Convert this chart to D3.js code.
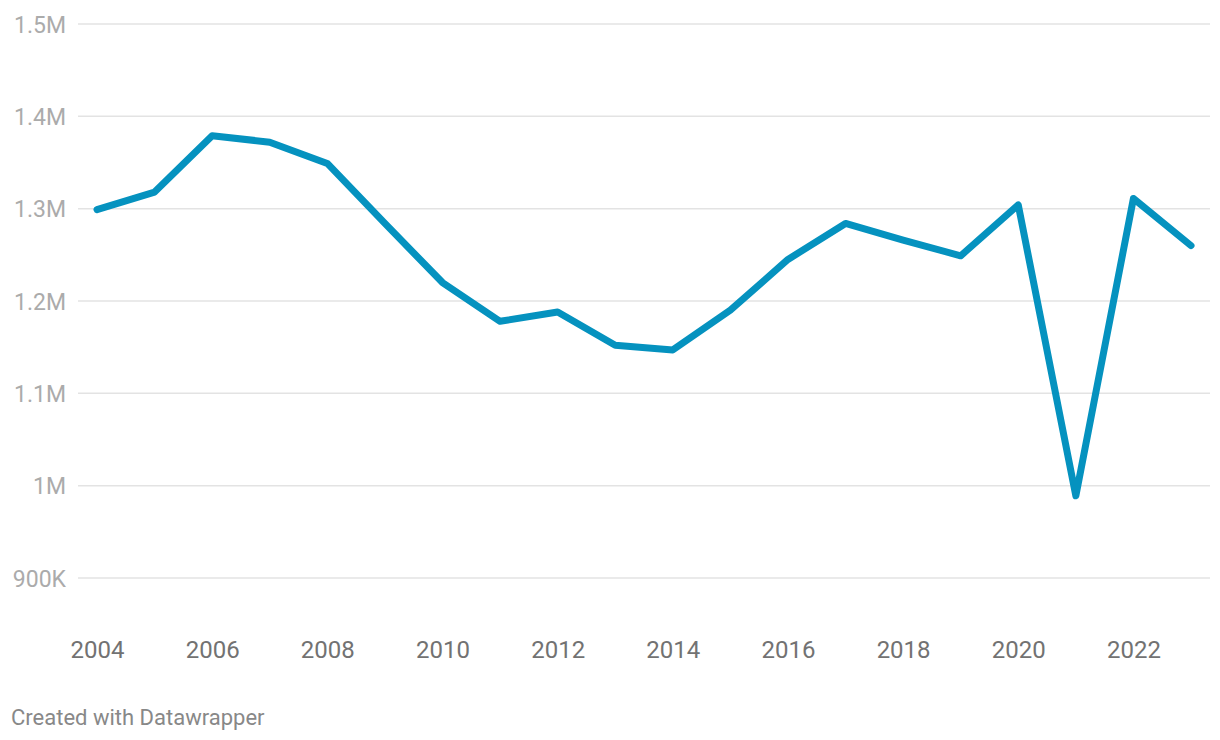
<!DOCTYPE html>
<html><head><meta charset="utf-8">
<script src="https://cdn.jsdelivr.net/npm/d3@7"></script>
<style>
body{margin:0;background:#fff;font-family:Roboto,sans-serif;}
</style></head><body>
<svg id="c" width="1220" height="740"></svg>
<script>
const years = [2004,2005,2006,2007,2008,2009,2010,2011,2012,2013,2014,2015,2016,2017,2018,2019,2020,2021,2022,2023];
const values = [1299000,1318000,1379000,1372000,1349000,1284000,1220000,1178000,1188000,1152000,1147000,1190000,1245000,1284000,1266000,1249000,1304000,989000,1311000,1260000];
const yTicks = [900000,1000000,1100000,1200000,1300000,1400000,1500000];
const yTickLabels = ["900K","1M","1.1M","1.2M","1.3M","1.4M","1.5M"];
const xTicks = [2004,2006,2008,2010,2012,2014,2016,2018,2020,2022];

const svg = d3.select("#c");
const x = d3.scaleLinear().domain([2004,2023]).range([97,1191]);
const y = d3.scaleLinear().domain([900000,1500000]).range([578,24]);

const yAxis = d3.axisLeft(y).tickValues(yTicks).tickFormat((d,i)=>yTickLabels[i]).tickSize(0).tickPadding(0);
const gy = svg.append("g").attr("transform","translate(66,0)").call(yAxis);
gy.select(".domain").remove();
gy.selectAll("text").attr("font-family","Roboto").attr("font-size",23).attr("fill","#ababab").attr("dy","0.35em").attr("x",0);

svg.append("g").selectAll("line").data(yTicks).join("line")
  .attr("x1",78).attr("x2",1210).attr("y1",d=>y(d)).attr("y2",d=>y(d))
  .attr("stroke","#e3e3e3").attr("stroke-width",1.5);

const xAxis = d3.axisBottom(x).tickValues(xTicks).tickFormat(d3.format("d")).tickSize(0).tickPadding(0);
const gx = svg.append("g").attr("transform","translate(0,658)").call(xAxis);
gx.select(".domain").remove();
gx.selectAll("text").attr("font-family","Roboto").attr("font-size",24).attr("fill","#727272").attr("dy",0).attr("y",0);

const line = d3.line().x((d,i)=>x(years[i])).y(d=>y(d));
svg.append("path").datum(values).attr("d",line)
  .attr("fill","none").attr("stroke","#0592bf").attr("stroke-width",7)
  .attr("stroke-linejoin","round").attr("stroke-linecap","round");

svg.append("text").attr("x",11).attr("y",725).attr("font-family","Roboto").attr("font-size",22)
  .attr("fill","#888888").text("Created with Datawrapper");
</script></body></html>
